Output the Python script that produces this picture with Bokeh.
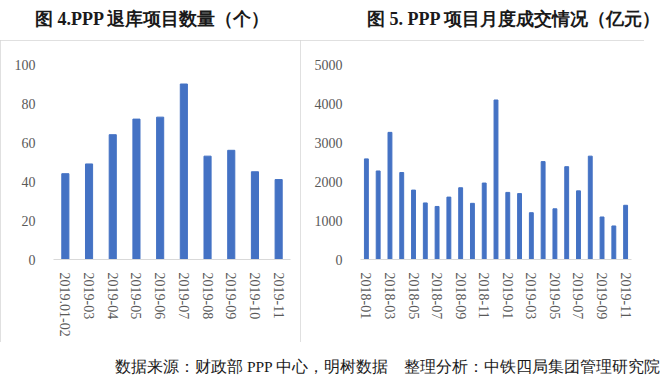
from bokeh.plotting import figure
from bokeh.layouts import column, row
from bokeh.models import Div, FixedTicker, Range1d, FactorRange
from bokeh.embed import file_html
from bokeh.resources import INLINE

# ---- data ----
left_title = "图 4.PPP 退库项目数量（个）"
left_months = ["2019.01-02", "2019-03", "2019-04", "2019-05", "2019-06",
               "2019-07", "2019-08", "2019-09", "2019-10", "2019-11"]
left_values = [44, 49, 64, 72, 73, 90, 53, 56, 45, 41]
left_ticks = [0, 20, 40, 60, 80, 100]

right_title = "图 5. PPP 项目月度成交情况（亿元）"
right_months = ["2018-01", "2018-02", "2018-03", "2018-04", "2018-05", "2018-06",
                "2018-07", "2018-08", "2018-09", "2018-10", "2018-11", "2018-12",
                "2019-01", "2019-02", "2019-03", "2019-04", "2019-05", "2019-06",
                "2019-07", "2019-08", "2019-09", "2019-10", "2019-11"]
right_values = [2580, 2270, 3260, 2230, 1780, 1450, 1360, 1600, 1840, 1440, 1960, 4090,
                1720, 1690, 1200, 2510, 1300, 2380, 1760, 2650, 1090, 860, 1390]
right_ticks = [0, 1000, 2000, 3000, 4000, 5000]

source_text = "数据来源：财政部 PPP 中心，明树数据　整理分析：中铁四局集团管理研究院"

BAR = "#4472C4"
TXT = "#595959"
FONT = "Liberation Serif, DejaVu Serif, serif"
TICK_FONT = "Liberation Serif"
PANEL = {"outline": "1px solid #d6d6d6", "outline-offset": "-1px"}


def style(p):
    p.background_fill_color = "white"
    p.border_fill_color = "white"
    p.outline_line_color = None
    p.xgrid.grid_line_color = None
    p.ygrid.grid_line_color = None
    for ax in p.xaxis:
        ax.axis_line_color = "#d9d9d9"
        ax.axis_line_width = 1
        ax.major_tick_line_color = None
        ax.minor_tick_line_color = None
        ax.major_label_orientation = "vertical"
        ax.major_label_text_font = TICK_FONT
        ax.major_label_text_font_size = "14px"
        ax.major_label_text_color = TXT
        ax.major_label_standoff = 7
    for ax in p.yaxis:
        ax.axis_line_color = None
        ax.major_tick_line_color = None
        ax.minor_tick_line_color = None
        ax.major_label_text_font = TICK_FONT
        ax.major_label_text_font_size = "14px"
        ax.major_label_text_color = TXT
        ax.major_label_standoff = 12


# ---- left chart ----
p1 = figure(width=300, height=302, x_range=FactorRange(*left_months),
            y_range=Range1d(0, 100), output_backend="svg", toolbar_location=None,
            min_border_left=53, min_border_right=10, min_border_top=20,
            min_border_bottom=83)
p1.vbar(x=left_months, top=left_values, width=0.3, color=BAR)
p1.yaxis.ticker = FixedTicker(ticks=left_ticks)
style(p1)
p1.x_range.range_padding = 0
p1.styles = PANEL

# ---- right chart ----
idx = list(range(len(right_months)))
p2 = figure(width=344, height=302, x_range=Range1d(-0.5, len(right_months) - 0.5),
            y_range=Range1d(0, 5000), output_backend="svg", toolbar_location=None,
            min_border_left=60, min_border_right=13, min_border_top=24,
            min_border_bottom=67)
p2.vbar(x=idx, top=right_values, width=0.33, color=BAR)
p2.yaxis.ticker = FixedTicker(ticks=right_ticks)
p2.xaxis.ticker = FixedTicker(ticks=idx[::2])
p2.xaxis.major_label_overrides = {i: right_months[i] for i in idx[::2]}
style(p2)
p2.styles = PANEL

# ---- titles and source ----
title_css = {"font-family": FONT, "font-weight": "bold", "font-size": "18px",
             "color": "#1a1a1a", "line-height": "18px", "white-space": "nowrap"}
t1 = Div(text=left_title, width=300, height=30,
         styles=dict(title_css, **{"padding-left": "30px", "padding-top": "5px"}))
t2 = Div(text=right_title, width=344, height=30,
         styles=dict(title_css, **{"padding-left": "52px", "padding-top": "5px"}))
src = Div(text=source_text, width=644, height=28,
          styles={"font-family": FONT, "font-size": "15.5px", "color": "#1a1a1a",
                  "line-height": "16px", "white-space": "nowrap",
                  "padding-left": "110px", "padding-top": "12px"})

layout = column(row(t1, t2, spacing=0), row(p1, p2, spacing=0), src, spacing=0)

open("out.html", "w").write(file_html(layout, INLINE))
